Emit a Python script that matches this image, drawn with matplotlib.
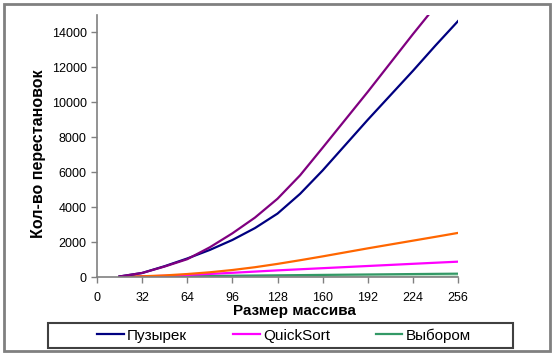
"""Число перестановок для разных сортировок."""

import matplotlib.pyplot as plt
from matplotlib.patches import Rectangle

plt.rcParams['font.family'] = ['Liberation Sans', 'DejaVu Sans']

# Размер массива
sizes = [16, 32, 48, 64, 80, 96, 112, 128, 144, 160, 176, 192, 208, 224, 240, 256]

# Кол-во перестановок
bubble = [30, 230, 620, 1060, 1550, 2120, 2800, 3630, 4760, 6100, 7550, 9000,
          10400, 11800, 13250, 14650]
bubble2 = [30, 230, 600, 1020, 1700, 2500, 3400, 4480, 5820, 7400, 9000, 10600,
           12250, 13900, 15500, 17100]
insert = [10, 40, 90, 170, 270, 400, 560, 750, 960, 1180, 1410, 1640,
          1860, 2080, 2300, 2524]
quick = [5, 30, 70, 120, 175, 240, 310, 380, 442, 505, 567, 630,
         692, 755, 817, 878]
select = [12, 24, 36, 48, 60, 72, 84, 96, 108, 120, 132, 144,
          156, 168, 180, 190]
select2 = [2, 4, 6, 8, 10, 12, 14, 16, 18, 20, 22, 24, 26, 28, 30, 32]

x_ticks = [0, 32, 64, 96, 128, 160, 192, 224, 256]
y_ticks = [0, 2000, 4000, 6000, 8000, 10000, 12000, 14000]

W, H = 556, 357
fig = plt.figure(figsize=(W / 100, H / 100), dpi=100)
ax = fig.add_axes([97 / W, 1 - 277 / H, 361 / W, 262 / H])

lw = 1.6
ax.plot(sizes, select2, color='#a8dcb8', lw=lw)
ax.plot(sizes, select, color='#339966', lw=lw, label='Выбором')
ax.plot(sizes, quick, color='#ff00ff', lw=lw, label='QuickSort')
ax.plot(sizes, insert, color='#ff6600', lw=lw)
ax.plot(sizes, bubble, color='#000080', lw=lw, label='Пузырек')
ax.plot(sizes, bubble2, color='#800080', lw=lw)

ax.set_xlim(0, 256)
ax.set_ylim(0, 15000)
ax.set_xticks(x_ticks)
ax.set_yticks(y_ticks)
ax.tick_params(labelsize=9, length=4, width=1, color='#808080')
ax.tick_params(axis='x', pad=7)
ax.tick_params(axis='y', pad=3.5)
for side in ('top', 'right'):
    ax.spines[side].set_visible(False)
for side in ('left', 'bottom'):
    ax.spines[side].set_color('#808080')
    ax.spines[side].set_linewidth(1.2)

fig.text(294.5 / W, 1 - 314.5 / H, 'Размер массива', ha='center',
         va='baseline', fontsize=11, fontweight='bold')
fig.text(39 / W, 1 - 153.5 / H, 'Кол-во перестановок', ha='center',
         va='center', rotation=90, fontsize=11.5, fontweight='bold')

handles, labels = ax.get_legend_handles_labels()
order = [2, 1, 0]
leg = fig.legend([handles[i] for i in order], [labels[i] for i in order],
                 loc='center', ncol=3, frameon=False,
                 bbox_to_anchor=(284 / W, 1 - 335.5 / H),
                 fontsize=11, handlelength=1.75, handletextpad=0.2,
                 columnspacing=3.0, borderaxespad=0, borderpad=0)

fig.patches.append(Rectangle((48 / W, 1 - 348 / H), 465 / W, 25 / H,
                             transform=fig.transFigure, fill=False,
                             edgecolor='#404040', linewidth=1.5))
fig.patches.append(Rectangle((4 / W, 1 - 351 / H), 546 / W, 347 / H,
                             transform=fig.transFigure, fill=False,
                             edgecolor='#808080', linewidth=2))

fig.savefig('out.png', dpi=100)
